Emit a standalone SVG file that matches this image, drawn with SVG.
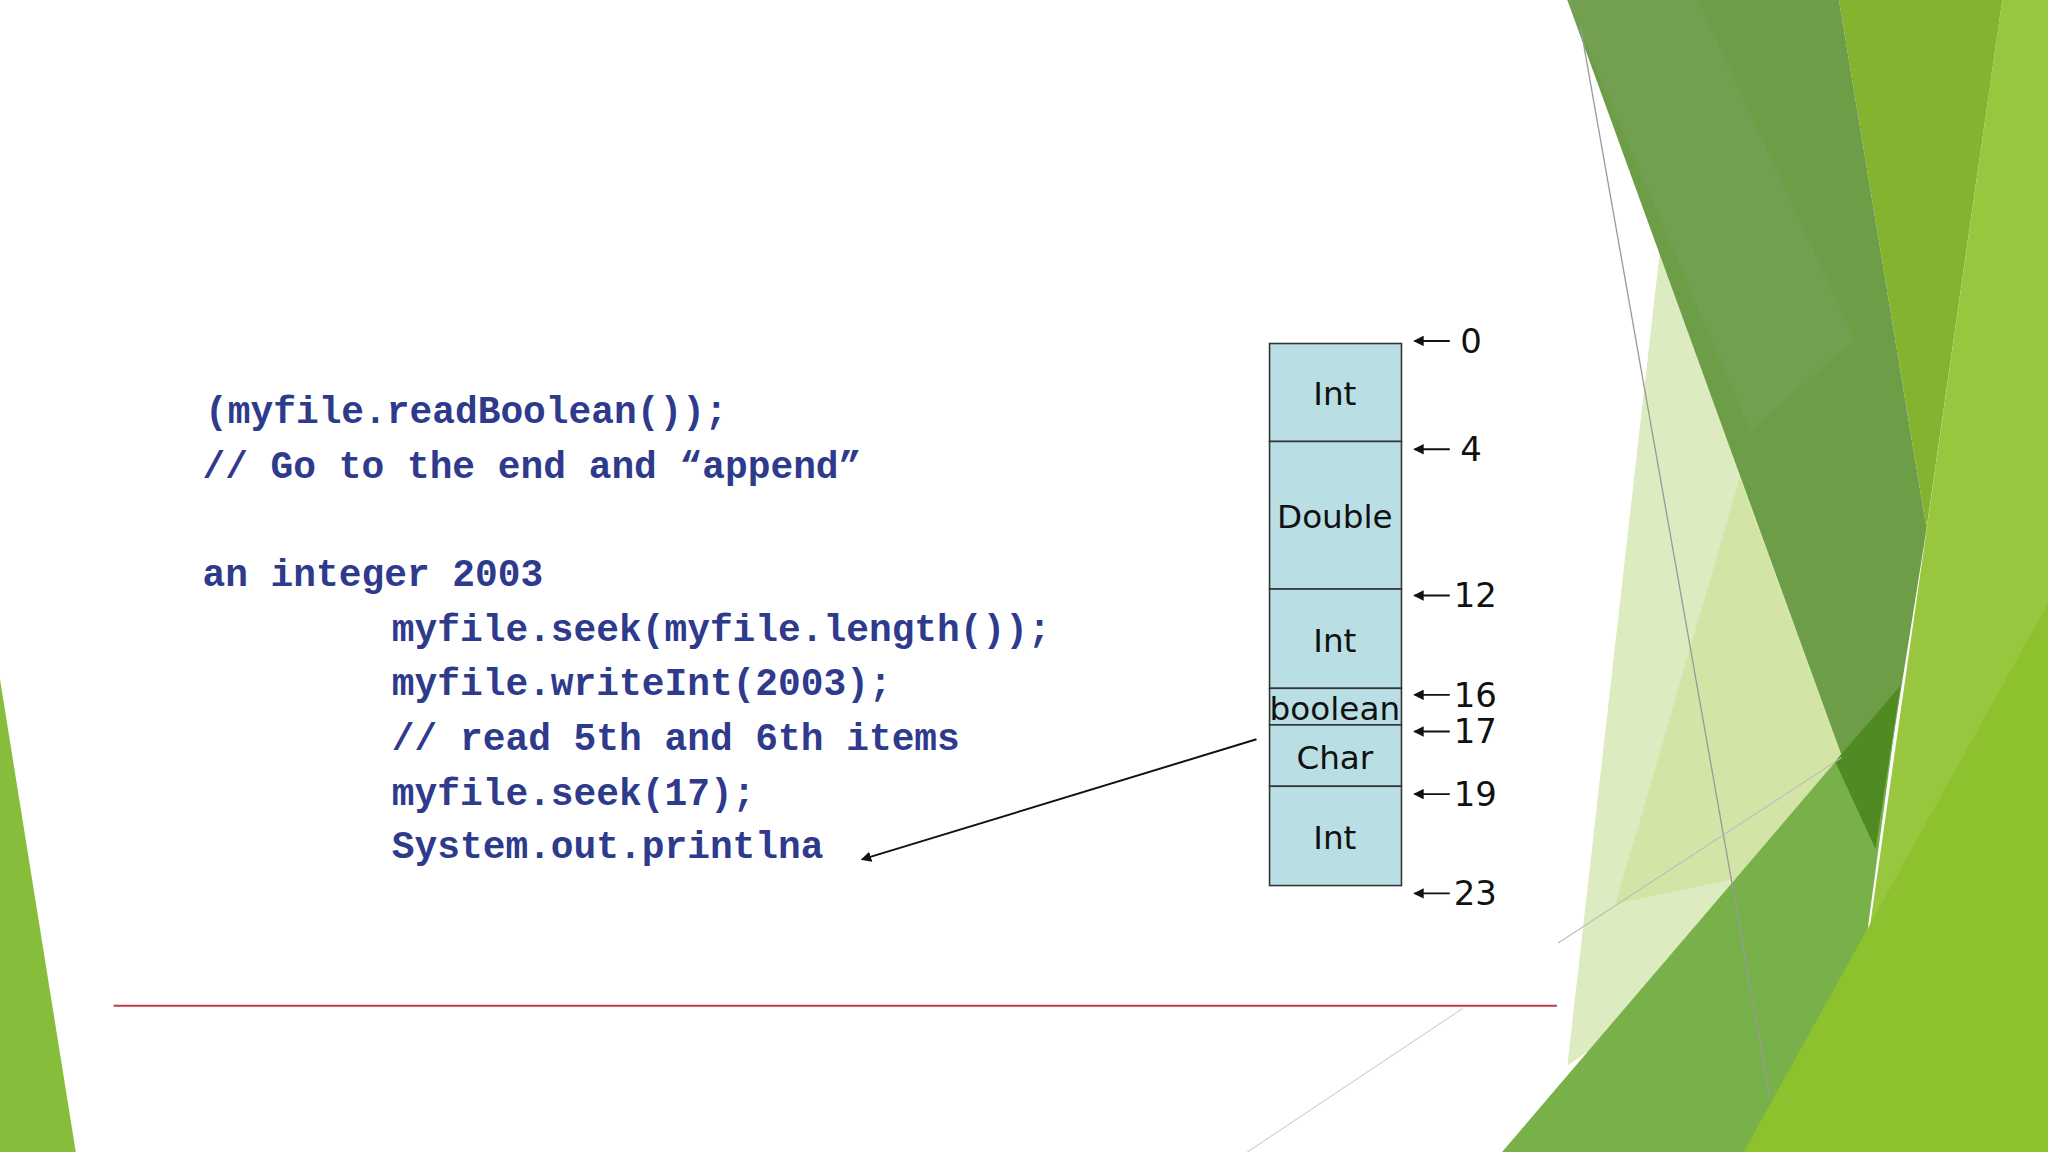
<svg xmlns="http://www.w3.org/2000/svg" width="2048" height="1152" viewBox="0 0 2048 1152">
<defs>
<style>
.code{font-family:"Liberation Mono",monospace;font-weight:bold;font-size:29px;fill:#2e3a8c}
.cell{fill:#b9dfe5;stroke:#333;stroke-width:1.2}
.lbl{font-family:"DejaVu Sans",sans-serif;font-size:25px;fill:#111;text-anchor:middle}
.num{font-family:"DejaVu Sans",sans-serif;font-size:26px;fill:#111}
.ar{stroke:#111;stroke-width:1.5;marker-end:url(#ah)}
</style>
<marker id="ah" markerWidth="8" markerHeight="8" refX="7" refY="4" orient="auto" markerUnits="userSpaceOnUse"><path d="M0,0 L8,4 L0,8 z" fill="#111"/></marker>
</defs>
<rect width="2048" height="1152" fill="#fff"/>
<g transform="scale(1.30612)">
<g id="background">
<polygon points="0,520 58,882 0,882" fill="#86bd3a"/>
<polygon points="1271,191 1436,650 1200,816" fill="#dcebc0"/>
<polygon points="1332,366 1436,650 1237,692" fill="#cfe4a0" opacity="0.8"/>
<polygon points="1533,0 1568,0 1568,882 1407,882" fill="#98c63f"/>
<polygon points="1408,0 1533,0 1475,405" fill="#84b32f"/>
<polygon points="1200,0 1408,0 1475,405 1436,650" fill="#6e9d47"/>
<polygon points="1200,0 1300,0 1420,260 1340,330" fill="#76a257" opacity="0.6"/>
<polygon points="1150,882 1455,525 1407,882" fill="#78b149"/>
<polygon points="1405,583 1455,525 1436,650" fill="#4f8a23"/>
<polygon points="1335,882 1568,462 1568,882" fill="#8ec12e"/>
<line x1="1210" y1="20" x2="1355" y2="840" stroke="#999" stroke-width="1"/>
<line x1="1193" y1="722" x2="1410" y2="580" stroke="#bbb" stroke-width="0.8"/>
<line x1="955" y1="882" x2="1120" y2="772" stroke="#ccc" stroke-width="0.8"/>
<line x1="87" y1="770" x2="1192" y2="770" stroke="#c0384a" stroke-width="1.5"/>
</g>
<g id="code">
<text class="code" x="157" y="324">(myfile.readBoolean());</text>
<text class="code" x="155" y="366">// Go to the end and “append”</text>
<text class="code" x="155" y="449">an integer 2003</text>
<text class="code" x="300" y="491">myfile.seek(myfile.length());</text>
<text class="code" x="300" y="532">myfile.writeInt(2003);</text>
<text class="code" x="300" y="574">// read 5th and 6th items</text>
<text class="code" x="300" y="616">myfile.seek(17);</text>
<text class="code" x="300" y="657">System.out.printlna</text>
</g>
<g id="cell-int0"><rect class="cell" x="972" y="263" width="101" height="75"/><text class="lbl" x="1022" y="310">Int</text></g>
<g id="cell-double"><rect class="cell" x="972" y="338" width="101" height="113"/><text class="lbl" x="1022" y="404">Double</text></g>
<g id="cell-int12"><rect class="cell" x="972" y="451" width="101" height="76"/><text class="lbl" x="1022" y="499">Int</text></g>
<g id="cell-boolean"><rect class="cell" x="972" y="527" width="101" height="28"/><text class="lbl" x="1022" y="551">boolean</text></g>
<g id="cell-char"><rect class="cell" x="972" y="555" width="101" height="47"/><text class="lbl" x="1022" y="589">Char</text></g>
<g id="cell-int19"><rect class="cell" x="972" y="602" width="101" height="76"/><text class="lbl" x="1022" y="650">Int</text></g>
<g id="offsets">
<text class="num" x="1118" y="270">0</text>
<text class="num" x="1118" y="353">4</text>
<text class="num" x="1113" y="465">12</text>
<text class="num" x="1113" y="541">16</text>
<text class="num" x="1113" y="569">17</text>
<text class="num" x="1113" y="617">19</text>
<text class="num" x="1113" y="693">23</text>
</g>
<g id="connectors">
<line class="ar" x1="1110" y1="261" x2="1083" y2="261"/>
<line class="ar" x1="1110" y1="344" x2="1083" y2="344"/>
<line class="ar" x1="1110" y1="456" x2="1083" y2="456"/>
<line class="ar" x1="1110" y1="532" x2="1083" y2="532"/>
<line class="ar" x1="1110" y1="560" x2="1083" y2="560"/>
<line class="ar" x1="1110" y1="608" x2="1083" y2="608"/>
<line class="ar" x1="1110" y1="684" x2="1083" y2="684"/>
<line class="ar" x1="962" y1="566" x2="660" y2="658"/>
</g>
</g>
</svg>
